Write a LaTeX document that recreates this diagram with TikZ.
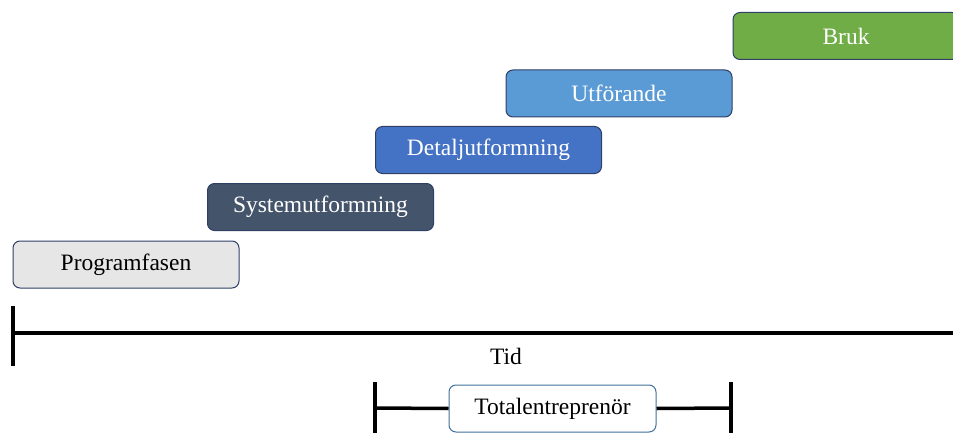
\documentclass[tikz,border=0pt]{standalone}
\usepackage{fontspec}
\setmainfont{Liberation Serif}

\definecolor{progfill}{HTML}{E7E6E6}
\definecolor{sysfill}{HTML}{44546A}
\definecolor{detfill}{HTML}{4472C4}
\definecolor{utffill}{HTML}{5B9BD5}
\definecolor{brukfill}{HTML}{70AD47}
\definecolor{phaseborder}{HTML}{2F3F66}
\definecolor{totborder}{HTML}{41719C}

\tikzset{
  phase/.style={draw=phaseborder, line width=1pt, rounded corners=7pt,
    minimum width=226pt, minimum height=47pt, inner sep=0pt,
    font=\fontsize{23.5}{27}\selectfont},
  axis/.style={line width=3.5pt}
}

\begin{document}
\begin{tikzpicture}[x=1pt,y=1pt]
    \useasboundingbox (0,0) rectangle (953,432);
    \clip (0,0) rectangle (953,432);

    % Draw the phases as a staircase
    \node[phase, fill=progfill] (prog) at (126,167.5) {Programfasen};
    \node[phase, fill=sysfill, text=white] (sys) at (320.5,225) {Systemutformning};
    \node[phase, fill=detfill, text=white] (det) at (488.5,282) {Detaljutformning};
    \node[phase, fill=utffill, text=white] (utf) at (619,338.5) {Utförande};
    \node[phase, fill=brukfill, text=white] (bruk) at (846,396) {Bruk};

    % Draw the time axis
    \coordinate (tstart) at (13,99);
    \coordinate (tend) at (960,99);
    \draw[axis] (13,126) -- (13,66);
    \draw[axis] (tstart) -- (tend);
    \node[font=\fontsize{23.5}{27}\selectfont] (tid) at (506,76) {Tid};

    % Draw the bracket for the contractor
    \node[phase, draw=totborder, fill=white, minimum width=207pt] (total) at (552.5,23.5) {Totalentreprenör};
    \coordinate (bstart) at (375,24);
    \coordinate (bend) at (731,24);
    \draw[axis] (375,50) -- (375,-5);
    \draw[axis] (731,50) -- (731,-5);
    \draw[axis] (bstart) -- (total.west);
    \draw[axis] (total.east) -- (bend);
\end{tikzpicture}
\end{document}
